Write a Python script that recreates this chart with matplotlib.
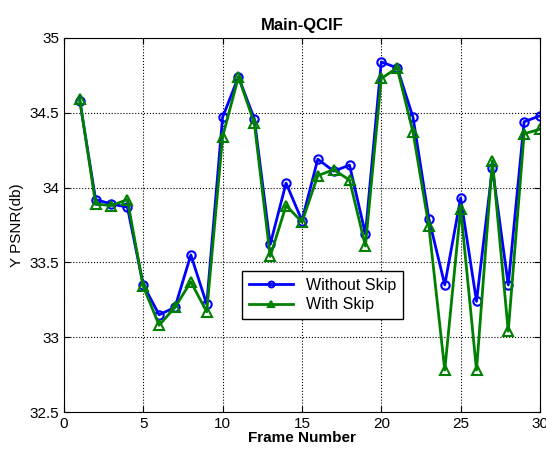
import matplotlib
matplotlib.use("Agg")
import matplotlib.pyplot as plt

plt.rcParams["font.family"] = ["Liberation Sans", "DejaVu Sans"]

frames = list(range(1, 31))
without_skip = [34.58, 33.92, 33.89, 33.87, 33.35, 33.15, 33.20, 33.55, 33.22, 34.47,
                34.74, 34.46, 33.62, 34.03, 33.78, 34.19, 34.11, 34.15, 33.69, 34.84,
                34.80, 34.47, 33.79, 33.35, 33.93, 33.24, 34.13, 33.35, 34.44, 34.48]
with_skip = [34.59, 33.89, 33.88, 33.92, 33.34, 33.08, 33.20, 33.37, 33.17, 34.34,
             34.74, 34.43, 33.54, 33.88, 33.77, 34.08, 34.12, 34.05, 33.61, 34.73,
             34.80, 34.37, 33.74, 32.78, 33.86, 32.78, 34.18, 33.04, 34.36, 34.39]

fig = plt.figure(figsize=(5.46, 4.5), dpi=100)
ax = fig.add_axes([0.117, 0.0844, 0.872, 0.8312])

ax.plot(frames, without_skip, color="blue", linewidth=2, marker="o",
        markersize=6, markerfacecolor="none", markeredgewidth=1.5,
        label="Without Skip")
ax.plot(frames, with_skip, color="green", linewidth=2, marker="^",
        markersize=7, markerfacecolor="none", markeredgewidth=1.5,
        label="With Skip")

ax.set_xlim(0, 30)
ax.set_ylim(32.5, 35)
ax.set_xticks(range(0, 31, 5))
ax.set_yticks([32.5, 33, 33.5, 34, 34.5, 35])
ax.set_yticklabels(["32.5", "33", "33.5", "34", "34.5", "35"])
ax.tick_params(direction="in", labelsize=11, length=4, top=True, right=True)
ax.grid(True, linestyle=":", color="black", linewidth=0.8)

ax.set_title("Main-QCIF", fontsize=12, fontweight="bold", pad=6)
ax.set_xlabel("Frame Number", fontsize=11, fontweight="bold", labelpad=0)
ax.set_ylabel("Y PSNR(db)", fontsize=11, labelpad=4)

leg = ax.legend(loc="lower left", bbox_to_anchor=(0.358, 0.228), fontsize=11.5,
                fancybox=False, edgecolor="black", framealpha=1, numpoints=1,
                handlelength=2.8, borderpad=0.4, labelspacing=0.3,
                markerscale=0.7)
leg.get_frame().set_linewidth(1.0)

plt.savefig("out.png", dpi=100)
plt.close()
